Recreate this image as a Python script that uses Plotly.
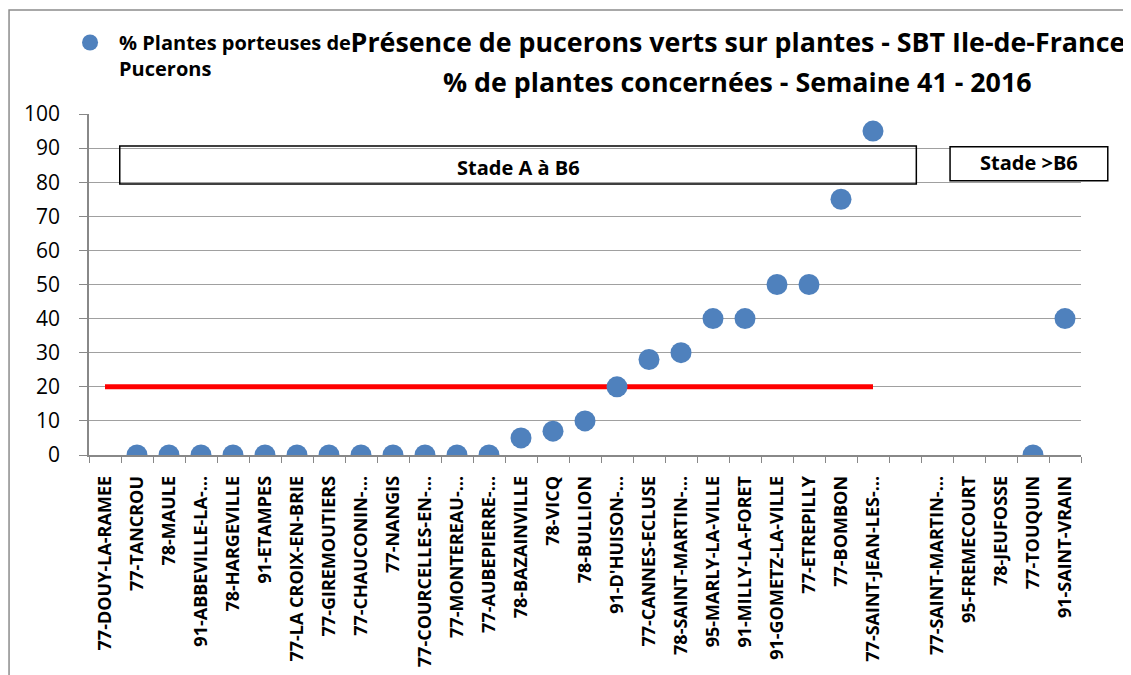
import plotly.graph_objects as go

categories = [
    "77-DOUY-LA-RAMEE", "77-TANCROU", "78-MAULE", "91-ABBEVILLE-LA-…", "78-HARGEVILLE",
    "91-ETAMPES", "77-LA CROIX-EN-BRIE", "77-GIREMOUTIERS", "77-CHAUCONIN-…", "77-NANGIS",
    "77-COURCELLES-EN-…", "77-MONTEREAU-…", "77-AUBEPIERRE-…", "78-BAZAINVILLE", "78-VICQ",
    "78-BULLION", "91-D'HUISON-…", "77-CANNES-ECLUSE", "78-SAINT-MARTIN-…", "95-MARLY-LA-VILLE",
    "91-MILLY-LA-FORET", "91-GOMETZ-LA-VILLE", "77-ETREPILLY", "77-BOMBON", "77-SAINT-JEAN-LES-…",
    " ", "77-SAINT-MARTIN-…​", "95-FREMECOURT", "78-JEUFOSSE", "77-TOUQUIN", "91-SAINT-VRAIN",
]
pct_plants = [
    None, 0, 0, 0, 0, 0, 0, 0, 0, 0, 0, 0, 0, 5, 7, 10, 20, 28, 30, 40, 40, 50, 50, 75, 95,
    None, None, None, None, 0, 40,
]
threshold = [20] * 25 + [None] * 6

FONT = "Open Sans"

fig = go.Figure()
fig.add_trace(go.Scatter(
    x=categories, y=threshold, mode="lines",
    line=dict(color="#FF0000", width=5), showlegend=False, hoverinfo="skip",
))
fig.add_trace(go.Scatter(
    x=categories, y=pct_plants, mode="markers",
    marker=dict(color="#4F81BD", size=21),
    name="<b>% Plantes porteuses de<br>Pucerons</b>",
))

# stage boxes
fig.add_shape(type="rect", xref="paper", yref="y", x0=0.031, x1=0.834, y0=79.5, y1=90.6,
              line=dict(color="black", width=1.5), fillcolor="rgba(255,255,255,0)")
fig.add_annotation(xref="paper", yref="y", x=0.433, y=84.4, xanchor="center", yanchor="middle",
                   text="<b>Stade A à B6</b>", showarrow=False,
                   font=dict(size=20, color="black", family=FONT))
fig.add_shape(type="rect", xref="paper", yref="y", x0=0.868, x1=1.027, y0=80.4, y1=90.4,
              line=dict(color="black", width=1.5), fillcolor="white")
fig.add_annotation(xref="paper", yref="y", x=0.9475, y=85.7, xanchor="center", yanchor="middle",
                   text="<b>Stade >B6</b>", showarrow=False,
                   font=dict(size=20, color="black", family=FONT))
# outer frame
fig.add_shape(type="rect", xref="paper", yref="paper", x0=-0.0806, x1=1.0464, y0=-0.7, y1=1.305,
              line=dict(color="#8C8C8C", width=1.5), layer="below")
# second title line
fig.add_annotation(xref="paper", yref="paper", x=0.6542, y=1.0953,
                   xanchor="center", yanchor="middle", showarrow=False,
                   text="<b>% de plantes concernées - Semaine 41 - 2016</b>",
                   font=dict(size=26.8, family=FONT, color="black"))

fig.update_layout(
    width=1131, height=675,
    margin=dict(l=81, r=58, t=106, b=228, autoexpand=False),
    paper_bgcolor="white", plot_bgcolor="white",
    font=dict(family=FONT, color="black"),
    title=dict(
        text="<b>Présence de pucerons verts sur plantes - SBT Ile-de-France</b>",
        x=0.6454, xanchor="center", xref="container",
        y=0.948, yanchor="middle", yref="container",
        font=dict(size=26.8, family=FONT, color="black"),
    ),
    legend=dict(
        x=0.0469, y=0.9778, xref="container", yref="container", xanchor="left", yanchor="top",
        font=dict(size=20, family=FONT, color="black"), bgcolor="rgba(0,0,0,0)",
        itemwidth=48, valign="top",
    ),
    showlegend=True,
)
fig.update_xaxes(
    type="category", range=[-0.5, len(categories) - 0.5], tickangle=-90, tickson="boundaries",
    ticks="outside", ticklen=6, tickcolor="#888888",
    showline=True, linecolor="#888888", linewidth=1.5,
    showgrid=False, tickfont=dict(size=18, family=FONT, color="black"),
    tickprefix="<b>", ticksuffix="</b>", ticklabelstandoff=12,
)
fig.update_yaxes(
    range=[0, 100], dtick=10, ticks="outside", ticklen=8, tickcolor="#888888",
    showline=True, linecolor="#888888", linewidth=1.5,
    showgrid=True, gridcolor="#A0A0A0", gridwidth=1, zeroline=False,
    tickfont=dict(size=21, family=FONT, color="black"), ticklabelstandoff=15,
)

fig.write_html("out.html")
